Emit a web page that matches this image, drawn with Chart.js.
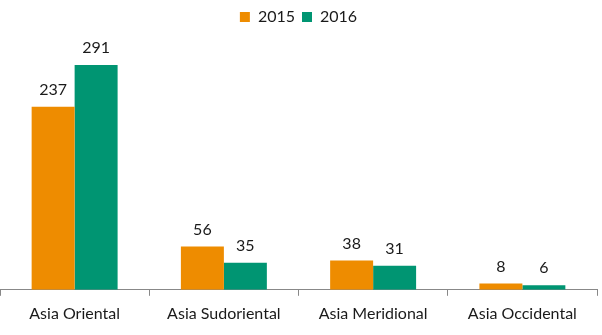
<!DOCTYPE html>
<html>
<head>
<meta charset="utf-8">
<script src="https://cdn.jsdelivr.net/npm/chart.js@4"></script>
<style>
html,body{margin:0;padding:0;background:#fff;}
#wrap{width:602px;height:335px;position:relative;}
</style>
</head>
<body>
<div id="wrap"><canvas id="c" width="602" height="335"></canvas></div>
<script>
const categories = ["Asia Oriental", "Asia Sudoriental", "Asia Meridional", "Asia Occidental"];
const seriesNames = ["2015", "2016"];
const values2015 = [237, 56, 38, 8];
const values2016 = [291, 35, 31, 6];
const colors = ["#EE8C00", "#009572"];

const FONT = "Lato, 'Open Sans', sans-serif";

const valueLabels = {
  id: 'valueLabels',
  afterDatasetsDraw(chart) {
    const ctx = chart.ctx;
    ctx.save();
    ctx.font = "16px " + FONT;
    ctx.fillStyle = "#1a1a1a";
    ctx.textAlign = "center";
    ctx.textBaseline = "bottom";
    chart.data.datasets.forEach((ds, i) => {
      const meta = chart.getDatasetMeta(i);
      meta.data.forEach((bar, j) => {
        ctx.fillText(String(ds.data[j]), bar.x, bar.y - 9);
      });
    });
    ctx.restore();
  }
};

new Chart(document.getElementById('c'), {
  type: 'bar',
  data: {
    labels: categories,
    datasets: [
      { label: seriesNames[0], data: values2015, backgroundColor: colors[0], categoryPercentage: 0.576, barPercentage: 1.0 },
      { label: seriesNames[1], data: values2016, backgroundColor: colors[1], categoryPercentage: 0.576, barPercentage: 1.0 }
    ]
  },
  options: {
    responsive: false,
    animation: false,
    devicePixelRatio: 1,
    layout: { padding: { left: 0, right: 5, top: 2, bottom: 4 } },
    plugins: {
      legend: {
        display: true,
        position: 'top',
        labels: {
          boxWidth: 10, boxHeight: 10, padding: 7,
          color: "#1a1a1a",
          font: { family: FONT, size: 16 }
        }
      },
      tooltip: { enabled: false }
    },
    scales: {
      x: {
        offset: true,
        grid: {
          display: true,
          drawOnChartArea: false,
          drawTicks: true,
          tickLength: 6,
          color: "#888888",
          offset: true
        },
        border: { display: true, color: "#888888", width: 1 },
        ticks: {
          color: "#1a1a1a",
          padding: 8,
          font: { family: FONT, size: 16 }
        }
      },
      y: {
        display: false,
        min: 0,
        max: 330
      }
    }
  },
  plugins: [valueLabels]
});
</script>
</body>
</html>
